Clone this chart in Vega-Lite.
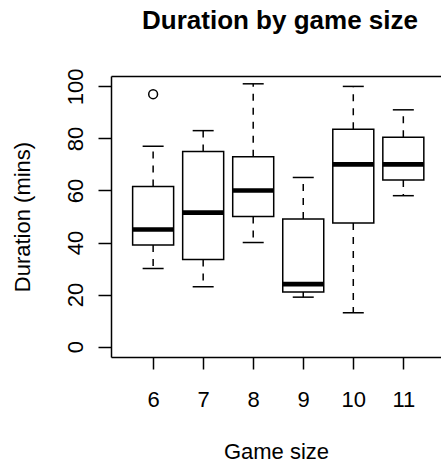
{
  "$schema": "https://vega.github.io/schema/vega-lite/v6.json",
  "autosize": "none",
  "padding": {"left": 111, "top": 76, "right": 0, "bottom": 106},
  "width": 330,
  "height": 281,
  "background": "white",
  "view": {"stroke": null},
  "title": {
    "text": "Duration by game size",
    "font": "Liberation Sans",
    "fontSize": 26,
    "fontWeight": "bold",
    "color": "black",
    "anchor": "middle",
    "dx": 4,
    "offset": 34
  },
  "datasets": {
    "boxes": [
      {"size": 6, "lower": 30, "q1": 39, "median": 45, "q3": 61.5, "upper": 77},
      {"size": 7, "lower": 23, "q1": 33.5, "median": 51.5, "q3": 75, "upper": 83},
      {"size": 8, "lower": 40, "q1": 50, "median": 60, "q3": 73, "upper": 101},
      {"size": 9, "lower": 19, "q1": 21, "median": 24, "q3": 49, "upper": 65},
      {"size": 10, "lower": 13, "q1": 47.5, "median": 70, "q3": 83.5, "upper": 100},
      {"size": 11, "lower": 58, "q1": 64, "median": 70, "q3": 80.5, "upper": 91}
    ],
    "outliers": [
      {"size": 6, "duration": 97}
    ]
  },
  "resolve": {"axis": {"x": "independent"}},
  "layer": [
    {
      "data": {"name": "boxes"},
      "mark": {"type": "rule", "color": "black", "strokeWidth": 1.5, "strokeDash": [7, 7]},
      "encoding": {
        "x": {
          "field": "size", "type": "quantitative",
          "scale": {"domain": [5.258, 11.653], "nice": false, "zero": false},
          "axis": {
            "orient": "bottom",
            "values": [6, 7, 8, 9, 10, 11],
            "title": "Game size",
            "grid": false,
            "domain": true, "domainColor": "black", "domainWidth": 1.5,
            "ticks": true, "tickColor": "black", "tickWidth": 1.5, "tickSize": 12,
            "labelFont": "Liberation Sans", "labelFontSize": 22, "labelColor": "black",
            "labelAngle": 0, "labelPadding": 37, "labelBaseline": "alphabetic",
            "labelFlush": false, "labelOverlap": false,
            "titleFont": "Liberation Sans", "titleFontSize": 22, "titleFontWeight": "normal",
            "titleColor": "black", "titleBaseline": "alphabetic", "titleY": 101
          }
        },
        "y": {
          "field": "q1", "type": "quantitative",
          "scale": {"domain": [-4, 104], "nice": false, "zero": false},
          "axis": {
            "values": [0, 20, 40, 60, 80, 100],
            "title": "Duration (mins)",
            "grid": false,
            "domain": true, "domainColor": "black", "domainWidth": 1.5,
            "ticks": true, "tickColor": "black", "tickWidth": 1.5, "tickSize": 13,
            "labelFont": "Liberation Sans", "labelFontSize": 22, "labelColor": "black",
            "labelAngle": -90, "labelAlign": "center", "labelBaseline": "alphabetic",
            "labelPadding": 16, "labelFlush": false, "labelOverlap": false,
            "titleFont": "Liberation Sans", "titleFontSize": 22, "titleFontWeight": "normal",
            "titleColor": "black", "titleAngle": -90, "titleAlign": "center",
            "titleBaseline": "alphabetic", "titleX": -82, "titleY": 140.5
          }
        },
        "y2": {"field": "lower"}
      }
    },
    {
      "data": {"name": "boxes"},
      "mark": {"type": "rule", "color": "black", "strokeWidth": 1.5, "strokeDash": [7, 7]},
      "encoding": {
        "x": {
          "field": "size", "type": "quantitative",
          "axis": {
            "orient": "top", "title": null, "labels": false, "ticks": false, "grid": false,
            "domain": true, "domainColor": "black", "domainWidth": 1.5
          }
        },
        "y": {"field": "q3", "type": "quantitative"},
        "y2": {"field": "upper"}
      }
    },
    {
      "data": {"name": "boxes"},
      "mark": {"type": "bar", "size": 41, "fill": "white", "stroke": "black", "strokeWidth": 1.5},
      "encoding": {
        "x": {"field": "size", "type": "quantitative", "axis": null},
        "y": {"field": "q1", "type": "quantitative"},
        "y2": {"field": "q3"}
      }
    },
    {
      "data": {"name": "boxes"},
      "mark": {"type": "tick", "orient": "horizontal", "size": 41, "thickness": 4.7, "color": "black", "opacity": 1},
      "encoding": {
        "x": {"field": "size", "type": "quantitative", "axis": null},
        "y": {"field": "median", "type": "quantitative"}
      }
    },
    {
      "data": {"name": "boxes"},
      "mark": {"type": "tick", "orient": "horizontal", "size": 21, "thickness": 1.5, "color": "black", "opacity": 1},
      "encoding": {
        "x": {"field": "size", "type": "quantitative", "axis": null},
        "y": {"field": "lower", "type": "quantitative"}
      }
    },
    {
      "data": {"name": "boxes"},
      "mark": {"type": "tick", "orient": "horizontal", "size": 21, "thickness": 1.5, "color": "black", "opacity": 1},
      "encoding": {
        "x": {"field": "size", "type": "quantitative", "axis": null},
        "y": {"field": "upper", "type": "quantitative"}
      }
    },
    {
      "data": {"name": "outliers"},
      "mark": {"type": "point", "shape": "circle", "filled": false, "size": 78, "stroke": "black", "strokeWidth": 1.5, "opacity": 1},
      "encoding": {
        "x": {"field": "size", "type": "quantitative", "axis": null},
        "y": {"field": "duration", "type": "quantitative"}
      }
    }
  ]
}
